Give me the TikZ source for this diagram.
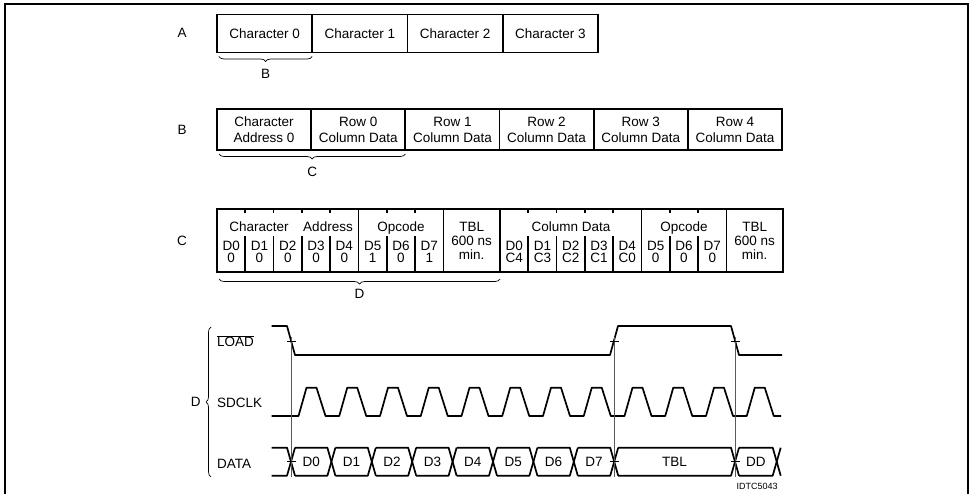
\documentclass[tikz,border=0pt]{standalone}
\usepackage{fontspec}
\setmainfont{Liberation Sans}
\usetikzlibrary{positioning,calc,decorations.pathreplacing}

\begin{document}
\begin{tikzpicture}[x=1pt,y=-1pt,
font=\fontsize{13.5}{16}\selectfont,
cell/.style={draw,line width=1.7pt,inner sep=0pt,outer sep=0pt,minimum width=95.25pt,minimum height=38pt,align=center},
rowcell/.style={cell,minimum width=94.17pt,minimum height=41pt},
txt/.style={inner sep=0pt,text height=9.7pt,text depth=0pt},
tbl/.style={inner sep=0pt,align=center,font=\fontsize{13.5}{14}\selectfont},
brc/.style={decorate,decoration={brace,mirror,amplitude=5pt},line width=0.7pt},
wave/.style={line width=1.7pt,line join=round},
guide/.style={line width=0.7pt,draw=black!65},
tick/.style={line width=0.7pt}
]
\useasboundingbox (0,0) rectangle (973,494);
\draw[line width=1.5pt] (5,494) -- (5,4) -- (968,4) -- (968,494);

% row A
\node[txt] (la) at (182,33) {A};
\node[cell] (a0) at (264.6,33.5) {Character 0};
\node[cell,right=0pt of a0] (a1) {Character 1};
\node[cell,right=0pt of a1] (a2) {Character 2};
\node[cell,right=0pt of a2] (a3) {Character 3};
\draw[brc] ($(a0.south west)+(2,4)$) -- ($(a0.south east)+(0,4)$) node[txt,midway,below=12pt] (ba) {B};

% row B
\node[txt] (lb) at (182,129.5) {B};
\node[rowcell] (b0) at (264.08,129.5) {Character\\Address 0};
\node[rowcell,right=0pt of b0] (b1) {Row 0\\Column Data};
\node[rowcell,right=0pt of b1] (b2) {Row 1\\Column Data};
\node[rowcell,right=0pt of b2] (b3) {Row 2\\Column Data};
\node[rowcell,right=0pt of b3] (b4) {Row 3\\Column Data};
\node[rowcell,right=0pt of b4] (b5) {Row 4\\Column Data};
\draw[brc] ($(b0.south west)+(2,4)$) -- ($(b1.south east)+(0,4)$) node[txt,midway,below=12pt] (bc) {C};

% row C
\def\bw{28.3}
\node[txt] (lc) at (182,241) {C};
\node[draw,line width=1.7pt,inner sep=0pt,outer sep=0pt,minimum width=566pt,minimum height=63pt] (c) at (500,240.5) {};
\foreach \h in {217,500}{
  \draw[line width=1.7pt] ({\h+5*\bw},209) -- ({\h+5*\bw},272);
  \draw[line width=1.7pt] ({\h+8*\bw},209) -- ({\h+8*\bw},272);
  \foreach \k in {1,2,3,4,6,7}{
    \draw[line width=1.7pt] ({\h+\k*\bw},209) -- ({\h+\k*\bw},213.5);
    \draw[line width=1.7pt] ({\h+\k*\bw},236) -- ({\h+\k*\bw},272);
  }
}
\draw[line width=1.7pt] (c.north) -- (c.south);
\node[txt] (cch) at (259,227) {Character};
\node[txt] (cad) at (328,227) {Address};
\node[txt] (cop) at (401,227) {Opcode};
\node[tbl] (ctb) at (471.7,241) {TBL\\600 ns\\min.};
\node[txt] (rcd) at (571,227) {Column Data};
\node[txt] (rop) at (684,227) {Opcode};
\node[tbl] (rtb) at (754.7,241) {TBL\\600 ns\\min.};
\foreach \k/\v in {0/0,1/0,2/0,3/0,4/0,5/1,6/0,7/1}{
  \node[txt] (dl\k) at ({217+(\k+0.5)*\bw},246) {D\k};
  \node[txt] (vl\k) at ({217+(\k+0.5)*\bw},258) {\v};
}
\foreach \k/\v in {0/C4,1/C3,2/C2,3/C1,4/C0,5/0,6/0,7/0}{
  \node[txt] (dr\k) at ({500+(\k+0.5)*\bw},246) {D\k};
  \node[txt] (vr\k) at ({500+(\k+0.5)*\bw},258) {\v};
}
\draw[brc] ($(c.south west)+(2,7)$) -- ($(c.south)+(0,7)$) node[txt,midway,below=9pt] (bdd) {D};

% timing
\node[txt,anchor=west] (load) at (217,342) {$\overline{\mbox{LOAD}}$};
\node[txt,anchor=west] (clk) at (217,403) {SDCLK};
\node[txt,anchor=west] (data) at (217,464) {DATA};
\draw[brc] (211,327) -- (211,477) node[txt,midway,left=10pt] (bt) {D};

\draw[wave] (271.7,326) -- (287,326) -- (295,355) -- (610,355) -- (618,326) -- (731,326) -- (739,355) -- (782,355);
\draw[wave] (271.7,416) \foreach \k in {0,...,11}{ -- ({298.5+40.75*\k},416) -- ({306.5+40.75*\k},387.7) -- ({316.5+40.75*\k},387.7) -- ({325.5+40.75*\k},416) } -- (781,416);

\def\hi{447.7}
\def\lo{475.7}
\draw[wave] (271.7,\hi) -- (287,\hi) -- (295,\lo);
\draw[wave] (271.7,\lo) -- (287,\lo) -- (295,\hi);
\foreach \a/\b/\t in {291/331.4/D0,331.4/371.8/D1,371.8/412.2/D2,412.2/452.6/D3,452.6/493/D4,493/533.4/D5,533.4/573.8/D6,573.8/614.2/D7,614.2/735/TBL,735/776.7/DD}{
  \draw[wave] ({\a+4},\hi) -- ({\b-4},\hi) -- ({\b+4},\lo);
  \draw[wave] ({\a+4},\lo) -- ({\b-4},\lo) -- ({\b+4},\hi);
  \node[txt] (w\t) at ({(\a+\b)/2},461.7) {\t};
}
\foreach \x in {291,614.2,735}{
  \draw[guide] (\x,337) -- (\x,477);
  \draw[tick] ({\x-4.5},341) -- ({\x+4.5},341);
  \draw[tick] ({\x-4.5},461.7) -- ({\x+4.5},461.7);
}
\node[txt,font=\fontsize{9}{10}\selectfont] (id) at (757,485) {IDTC5043};
\end{tikzpicture}
\end{document}
